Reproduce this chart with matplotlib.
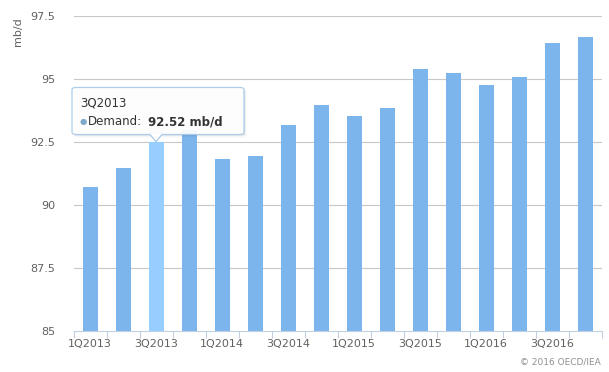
"""
plot.py - Quarterly oil demand bar chart (mb/d) with hover tooltip
"""
import matplotlib
matplotlib.use("Agg")
import matplotlib.pyplot as plt
import numpy as np
from matplotlib.patches import FancyBboxPatch, Polygon
from matplotlib.lines import Line2D

quarters = ["1Q2013", "2Q2013", "3Q2013", "4Q2013",
            "1Q2014", "2Q2014", "3Q2014", "4Q2014",
            "1Q2015", "2Q2015", "3Q2015", "4Q2015",
            "1Q2016", "2Q2016", "3Q2016", "4Q2016"]
demand = [90.72, 91.47, 92.52, 93.00,
          91.82, 91.95, 93.18, 93.97,
          93.54, 93.87, 95.41, 95.25,
          94.78, 95.09, 96.43, 96.67]
y_ticks = [85, 87.5, 90, 92.5, 95, 97.5]
y_tick_labels = ["85", "87.5", "90", "92.5", "95", "97.5"]
hover_idx = 2

W, H = 609, 372
fig = plt.figure(figsize=(W / 100, H / 100), dpi=100)
fig.patch.set_facecolor("white")

def fx(px):
    return px / W

def fy(py):
    return 1 - py / H

ax = fig.add_axes([fx(73.5), fy(331), fx(601.5) - fx(73.5), fy(16.3) - fy(331)])

x = np.arange(len(quarters))
colors = ["#7cb5ec"] * len(quarters)
colors[hover_idx] = "#95ceff"
ax.bar(x, np.array(demand) - 85, bottom=85, width=15 / 33, color=colors,
       edgecolor="none", zorder=2)

ax.set_xlim(-0.5, len(quarters) - 0.5)
ax.set_ylim(85, 97.5)

# grid
for yv in y_ticks[1:]:
    ax.axhline(yv, color="#c8c8c8", linewidth=0.8, zorder=1)

for s in ["top", "right", "left"]:
    ax.spines[s].set_visible(False)
ax.spines["bottom"].set_color("#c0d0e0")
ax.spines["bottom"].set_linewidth(0.8)

ax.set_yticks(y_ticks)
ax.set_yticklabels(y_tick_labels)
ax.tick_params(axis="y", length=0, pad=13, labelsize=8, labelcolor="#606060")

ax.set_xticks(x[::2])
ax.set_xticklabels(quarters[::2])
ax.set_xticks(np.arange(-0.5, len(quarters)), minor=True)
ax.tick_params(axis="x", which="major", length=0, pad=6, labelsize=8,
               labelcolor="#606060")
ax.tick_params(axis="x", which="minor", length=5, width=0.8, color="#c0d0e0")

fig.text(fx(18), fy(32), "mb/d", rotation=90, ha="center", va="center",
         fontsize=8, color="#606060")

fig.text(fx(601), fy(362), "\u00a9 2016 OECD/IEA", ha="right", va="center",
         fontsize=6.5, color="#909090")

# tooltip anchored at hovered bar top
fig.canvas.draw()
ax_px = ax.transData.transform((hover_idx, demand[hover_idx]))
tip_x, tip_y = ax_px[0], H - ax_px[1]
left, top, right, bottom = 72, 87.5, 244, 134.5
for off, a in [(1, 0.06), (2, 0.04), (3, 0.02)]:
    sh = FancyBboxPatch((fx(left + off), fy(bottom + off)),
                        fx(right - left), fy(top) - fy(bottom),
                        boxstyle="round,pad=0,rounding_size=0.006",
                        transform=fig.transFigure, facecolor="#000000",
                        edgecolor="none", alpha=a, zorder=5)
    fig.add_artist(sh)
box = FancyBboxPatch((fx(left), fy(bottom)), fx(right - left), fy(top) - fy(bottom),
                     boxstyle="round,pad=0,rounding_size=0.006",
                     transform=fig.transFigure, facecolor="#ffffff",
                     edgecolor="#a9cbeb", linewidth=0.9, alpha=0.95, zorder=6)
fig.add_artist(box)
tri = Polygon([(fx(tip_x - 7), fy(bottom - 1)), (fx(tip_x + 7), fy(bottom - 1)),
               (fx(tip_x), fy(tip_y))], closed=True, transform=fig.transFigure,
              facecolor="#ffffff", edgecolor="none", zorder=7)
fig.add_artist(tri)
for dx in (-6, 6):
    fig.add_artist(Line2D([fx(tip_x + dx), fx(tip_x)], [fy(bottom), fy(tip_y)],
                          transform=fig.transFigure, color="#a9cbeb",
                          linewidth=0.9, zorder=8))

fig.text(fx(80), fy(103), quarters[hover_idx], ha="left", va="center",
         fontsize=8.5, color="#333333", zorder=9)
fig.text(fx(83), fy(121.5), "\u25cf", ha="center", va="center",
         fontsize=6, color="#7fa8c9", zorder=9)
fig.text(fx(88), fy(121.5), "Demand:", ha="left", va="center",
         fontsize=8.5, color="#333333", zorder=9)
fig.text(fx(148), fy(121.5), f"{demand[hover_idx]:.2f} mb/d", ha="left",
         va="center", fontsize=8.5, fontweight="bold", color="#333333", zorder=9)

plt.savefig("out.png", dpi=100, facecolor="white")
